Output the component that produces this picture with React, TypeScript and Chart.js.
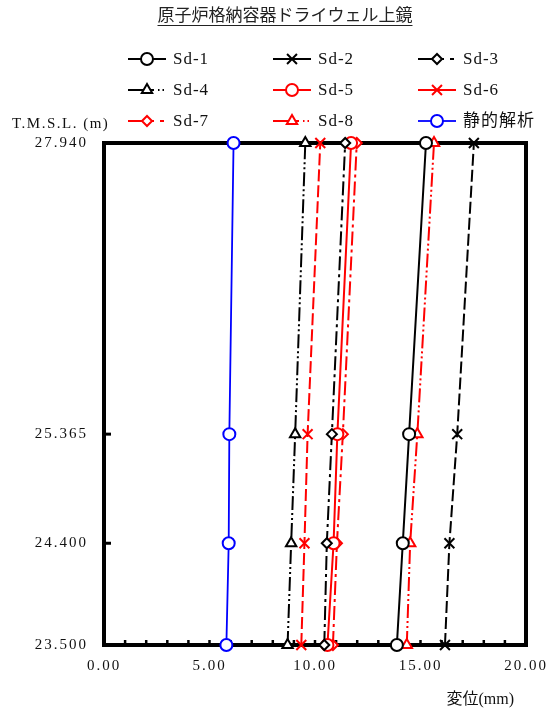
import React, { useEffect, useRef } from 'react';
import { Chart, registerables } from 'chart.js';
import { drawPoint } from 'chart.js/helpers';

Chart.register(...registerables);

// ---- data ----
const titleText = '原子炉格納容器ドライウェル上鏡';
const yAxisLabel = 'T.M.S.L. (m)';
const xAxisLabel = '変位(mm)';
const levels = [23.5, 24.4, 25.365, 27.94];
const yTickLabels = ['23.500', '24.400', '25.365', '27.940'];
const xTickValues = [0, 5, 10, 15, 20];
const xTickLabels = ['0.00', '5.00', '10.00', '15.00', '20.00'];
const seriesNames = ['Sd-1', 'Sd-2', 'Sd-3', 'Sd-4', 'Sd-5', 'Sd-6', 'Sd-7', 'Sd-8', '静的解析'];
const sd1 = [13.88, 14.16, 14.46, 15.26];
const sd2 = [16.16, 16.37, 16.74, 17.53];
const sd3 = [10.44, 10.56, 10.8, 11.43];
const sd4 = [8.7, 8.87, 9.06, 9.54];
const sd5 = [10.59, 10.88, 11.06, 11.71];
const sd6 = [9.35, 9.5, 9.65, 10.25];
const sd7 = [10.85, 11.04, 11.32, 11.98];
const sd8 = [14.35, 14.51, 14.85, 15.64];
const staticVals = [5.8, 5.91, 5.94, 6.14];
const seriesValues = [sd1, sd2, sd3, sd4, sd5, sd6, sd7, sd8, staticVals];

// ---- styles ----
const DASH = [12, 4];
const DASHDOT = [14, 4, 3, 4];
const DASHDOTDOT = [14, 3, 2, 3, 2, 3];
const LG_SOLID: number[] = [];
const LG_DASHDOT = [7, 6, 4, 20];
const LG_DASHDOTDOT = [7, 4, 1.5, 3, 1.5, 20];
const styles = [
  { color: '#000', dash: [], lg: LG_SOLID, point: 'circle', r: 6, w: 2 },
  { color: '#000', dash: DASH, lg: LG_SOLID, point: 'crossRot', r: 7, w: 2 },
  { color: '#000', dash: DASHDOT, lg: LG_DASHDOT, point: 'rectRot', r: 5, w: 2 },
  { color: '#000', dash: DASHDOTDOT, lg: LG_DASHDOTDOT, point: 'triangle', r: 6, w: 2 },
  { color: '#f00', dash: [], lg: LG_SOLID, point: 'circle', r: 6, w: 2 },
  { color: '#f00', dash: DASH, lg: LG_SOLID, point: 'crossRot', r: 7, w: 2 },
  { color: '#f00', dash: DASHDOT, lg: LG_DASHDOT, point: 'rectRot', r: 5, w: 2 },
  { color: '#f00', dash: DASHDOTDOT, lg: LG_DASHDOTDOT, point: 'triangle', r: 6, w: 2 },
  { color: '#00f', dash: [], lg: LG_SOLID, point: 'circle', r: 6, w: 1.8 },
];

const SERIF = '"Liberation Serif", "Noto Sans CJK JP", serif';

const decorPlugin = {
  id: 'decor',
  beforeDraw(chart: any) {
    chart.ctx.letterSpacing = '2px';
  },
  beforeDatasetsDraw(chart: any) {
    const { ctx, chartArea: a, scales } = chart;
    ctx.save();
    ctx.letterSpacing = '0px';
    ctx.setLineDash([]);
    ctx.strokeStyle = '#000';
    ctx.lineWidth = 3;
    levels.forEach((v) => {
      const y = scales.y.getPixelForValue(v);
      ctx.beginPath();
      ctx.moveTo(a.left, y);
      ctx.lineTo(a.left + 7, y);
      ctx.stroke();
    });
    ctx.lineWidth = 2.5;
    for (let v = 1; v < 20; v++) {
      const x = scales.x.getPixelForValue(v);
      ctx.beginPath();
      ctx.moveTo(x, a.bottom);
      ctx.lineTo(x, a.bottom - 5);
      ctx.stroke();
    }
    ctx.lineWidth = 4;
    ctx.strokeRect(a.left, a.top, a.right - a.left, a.bottom - a.top);
    ctx.restore();
  },
  afterDraw(chart: any) {
    const { ctx } = chart;
    ctx.save();
    ctx.letterSpacing = '0px';
    // title
    ctx.fillStyle = '#222';
    ctx.font = '17px "Noto Sans CJK JP", sans-serif';
    ctx.textAlign = 'center';
    ctx.textBaseline = 'middle';
    const tx = 285;
    const ty = 15;
    ctx.fillText(titleText, tx, ty);
    const tw = ctx.measureText(titleText).width;
    ctx.strokeStyle = '#222';
    ctx.lineWidth = 1;
    ctx.beginPath();
    ctx.moveTo(tx - tw / 2, 25.5);
    ctx.lineTo(tx + tw / 2, 25.5);
    ctx.stroke();

    // legend
    const colX = [128, 273, 418];
    const rowY = [59, 90, 121];
    seriesNames.forEach((name, i) => {
      const s = styles[i];
      const x0 = colX[i % 3];
      const y0 = rowY[Math.floor(i / 3)];
      ctx.strokeStyle = s.color;
      ctx.lineWidth = s.w;
      ctx.setLineDash([]);
      ctx.beginPath();
      ctx.moveTo(x0, y0);
      ctx.lineTo(x0 + 19, y0);
      ctx.stroke();
      ctx.setLineDash(s.lg);
      ctx.beginPath();
      ctx.moveTo(x0 + 19, y0);
      ctx.lineTo(x0 + 38, y0);
      ctx.stroke();
      ctx.setLineDash([]);
      ctx.fillStyle = '#fff';
      ctx.lineWidth = 2;
      drawPoint(ctx, { pointStyle: s.point, radius: s.r, rotation: 0, borderWidth: 2 } as any, x0 + 19, y0);
      ctx.fillStyle = '#111';
      ctx.font = '17px ' + SERIF;
      ctx.textAlign = 'left';
      ctx.textBaseline = 'middle';
      ctx.letterSpacing = '1px';
      ctx.fillText(name, x0 + 45, y0 + 1);
      ctx.letterSpacing = '0px';
    });

    // axis labels
    ctx.fillStyle = '#111';
    ctx.font = '15px ' + SERIF;
    ctx.textAlign = 'left';
    ctx.textBaseline = 'middle';
    ctx.letterSpacing = '1.5px';
    ctx.fillText(yAxisLabel, 12, 124);
    ctx.letterSpacing = '0px';
    ctx.font = '16px ' + SERIF;
    ctx.textAlign = 'right';
    ctx.fillText(xAxisLabel, 514, 700);
    ctx.restore();
  },
};

export default function App() {
  const ref = useRef<HTMLCanvasElement | null>(null);
  useEffect(() => {
    document.body.style.margin = '0';
    const canvas = ref.current;
    if (!canvas) return;
    const datasets = seriesNames.map((name, i) => {
      const s = styles[i];
      return {
        label: name,
        data: levels.map((y, j) => ({ x: seriesValues[i][j], y })),
        showLine: true,
        borderColor: s.color,
        borderWidth: s.w,
        borderDash: s.dash,
        pointStyle: s.point,
        pointRadius: s.r,
        pointBorderWidth: 2,
        pointBorderColor: s.color,
        pointBackgroundColor: '#fff',
        clip: false as any,
      };
    });
    const chart = new Chart(canvas, {
      type: 'scatter',
      data: { datasets },
      options: {
        animation: false,
        responsive: false,
        devicePixelRatio: 1,
        layout: { padding: { top: 143, right: 22, bottom: 0, left: 0 } },
        plugins: { legend: { display: false }, tooltip: { enabled: false }, title: { display: false } },
        scales: {
          x: {
            type: 'linear',
            min: 0,
            max: 20,
            grid: { display: false, drawTicks: false },
            border: { display: false },
            afterBuildTicks: (sc: any) => {
              sc.ticks = xTickValues.map((v) => ({ value: v }));
            },
            afterFit: (sc: any) => {
              sc.height = 70;
              sc.paddingLeft = 0;
              sc.paddingRight = 0;
            },
            ticks: {
              autoSkip: false,
              maxRotation: 0,
              padding: 12,
              color: '#111',
              font: { family: SERIF, size: 15 },
              callback: (v: any) => {
                const k = xTickValues.indexOf(Number(v));
                return k >= 0 ? xTickLabels[k] : '';
              },
            },
          },
          y: {
            type: 'linear',
            min: 23.5,
            max: 27.94,
            grid: { display: false, drawTicks: false },
            border: { display: false },
            afterBuildTicks: (sc: any) => {
              sc.ticks = levels.map((v) => ({ value: v }));
            },
            afterFit: (sc: any) => {
              sc.width = 104;
              sc.paddingTop = 0;
              sc.paddingBottom = 0;
            },
            ticks: {
              autoSkip: false,
              padding: 16,
              color: '#111',
              font: { family: SERIF, size: 15 },
              callback: (v: any) => {
                const k = levels.indexOf(Number(v));
                return k >= 0 ? yTickLabels[k] : '';
              },
            },
          },
        },
      },
      plugins: [decorPlugin],
    });
    return () => chart.destroy();
  }, []);
  return (
    <div style={{ width: 548, height: 715 }}>
      <canvas ref={ref} width={548} height={715} style={{ display: 'block' }} />
    </div>
  );
}
